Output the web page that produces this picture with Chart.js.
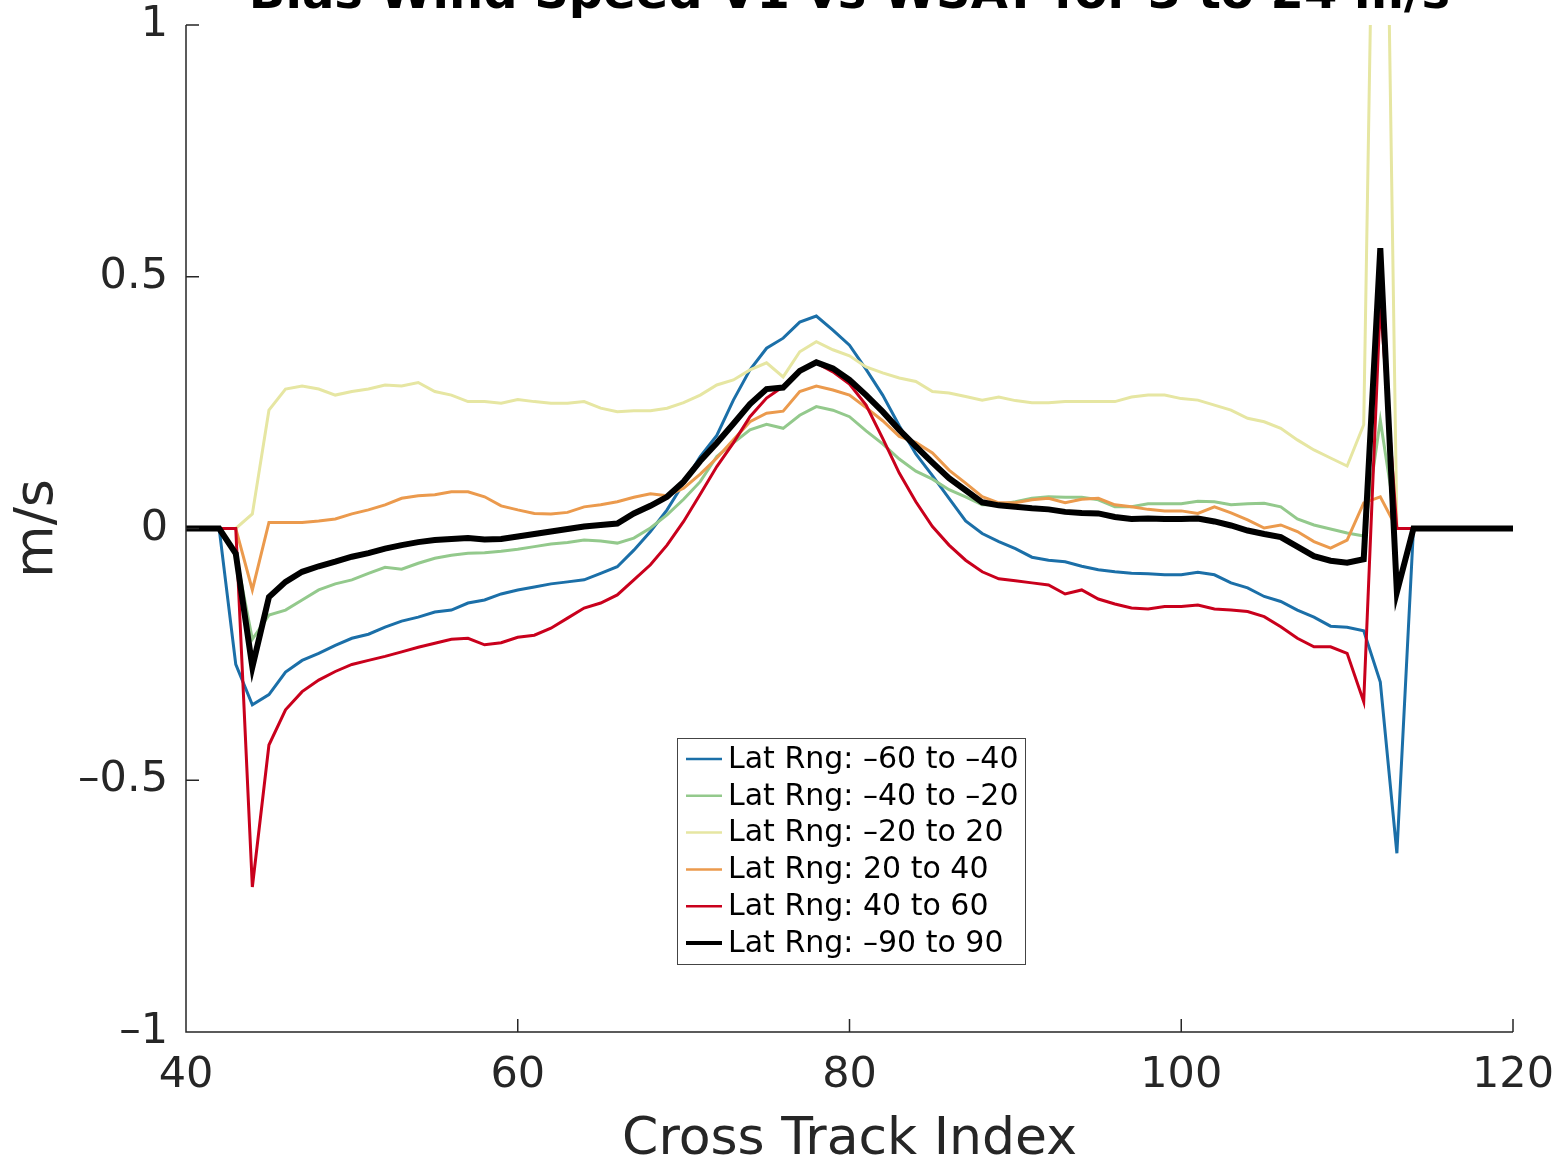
<!DOCTYPE html>
<html>
<head>
<meta charset="utf-8">
<script src="https://cdn.jsdelivr.net/npm/chart.js"></script>
<style>
  body { margin: 0; background: #fff; }
</style>
</head>
<body>
<canvas id="myChart" width="1563" height="1167"></canvas>
<script>
// cross track index (x) and bias (m/s) per latitude band
const xIdx = [40,41,42,43,44,45,46,47,48,49,50,51,52,53,54,55,56,57,58,59,
              60,61,62,63,64,65,66,67,68,69,70,71,72,73,74,75,76,77,78,79,
              80,81,82,83,84,85,86,87,88,89,90,91,92,93,94,95,96,97,98,99,
              100,101,102,103,104,105,106,107,108,109,110,111,112,113,114,115,116,117,118,119,120];

const lat60s40s = [0,0,0,-0.27,-0.35,-0.33,-0.285,-0.262,-0.248,-0.232,-0.218,-0.21,-0.196,-0.184,-0.176,-0.166,-0.162,-0.148,-0.142,-0.13,
  -0.122,-0.116,-0.11,-0.106,-0.102,-0.089,-0.076,-0.043,-0.006,0.037,0.09,0.143,0.185,0.255,0.315,0.358,0.378,0.41,0.422,0.394,
  0.364,0.316,0.265,0.204,0.148,0.105,0.06,0.015,-0.01,-0.026,-0.04,-0.057,-0.063,-0.066,-0.075,-0.082,-0.086,-0.089,-0.09,-0.092,
  -0.092,-0.087,-0.092,-0.108,-0.118,-0.135,-0.145,-0.162,-0.176,-0.194,-0.196,-0.203,-0.305,-0.645,0,0,0,0,0,0,0];

const lat40s20s = [0,0,0,-0.05,-0.22,-0.172,-0.162,-0.142,-0.122,-0.11,-0.102,-0.089,-0.077,-0.081,-0.069,-0.059,-0.053,-0.049,-0.048,-0.045,
  -0.041,-0.036,-0.031,-0.028,-0.023,-0.025,-0.029,-0.019,0.001,0.027,0.058,0.093,0.143,0.17,0.196,0.207,0.199,0.225,0.242,0.235,
  0.222,0.194,0.168,0.138,0.114,0.098,0.077,0.063,0.047,0.047,0.053,0.06,0.063,0.062,0.062,0.057,0.043,0.043,0.049,0.049,
  0.049,0.054,0.053,0.047,0.049,0.05,0.043,0.019,0.007,-0.001,-0.009,-0.015,0.215,0,0,0,0,0,0,0,0];

const lat20s20n = [0,0,0,0,0.029,0.235,0.277,0.283,0.277,0.265,0.272,0.277,0.285,0.283,0.29,0.272,0.265,0.252,0.252,0.249,
  0.256,0.252,0.249,0.249,0.252,0.239,0.232,0.234,0.234,0.239,0.25,0.265,0.285,0.295,0.315,0.329,0.301,0.351,0.371,0.355,
  0.343,0.321,0.309,0.299,0.292,0.272,0.269,0.262,0.255,0.261,0.254,0.25,0.25,0.252,0.252,0.252,0.252,0.261,0.265,0.265,
  0.258,0.255,0.245,0.235,0.219,0.212,0.199,0.176,0.156,0.14,0.124,0.206,2.2,0,0,0,0,0,0,0,0];

const lat20n40n = [0,0,0,0,-0.122,0.012,0.012,0.012,0.015,0.019,0.029,0.037,0.047,0.06,0.065,0.067,0.073,0.073,0.063,0.045,
  0.037,0.03,0.029,0.032,0.043,0.047,0.053,0.062,0.069,0.065,0.08,0.108,0.14,0.176,0.212,0.229,0.233,0.272,0.283,0.275,
  0.265,0.24,0.214,0.183,0.171,0.15,0.116,0.09,0.063,0.051,0.051,0.057,0.06,0.051,0.058,0.06,0.047,0.043,0.038,0.035,
  0.035,0.03,0.043,0.031,0.017,0.001,0.007,-0.006,-0.026,-0.039,-0.023,0.051,0.063,0,0,0,0,0,0,0,0];

const lat40n60n = [0,0,0,0,-0.712,-0.43,-0.36,-0.324,-0.301,-0.284,-0.27,-0.262,-0.254,-0.245,-0.236,-0.228,-0.22,-0.218,-0.231,-0.227,
  -0.216,-0.212,-0.198,-0.178,-0.158,-0.148,-0.132,-0.102,-0.072,-0.033,0.014,0.068,0.123,0.17,0.222,0.259,0.282,0.315,0.329,0.311,
  0.287,0.245,0.179,0.11,0.053,0.004,-0.033,-0.063,-0.086,-0.1,-0.104,-0.108,-0.112,-0.13,-0.122,-0.14,-0.15,-0.158,-0.16,-0.155,
  -0.155,-0.152,-0.16,-0.162,-0.165,-0.175,-0.195,-0.218,-0.235,-0.235,-0.248,-0.344,0.45,0,0,0,0,0,0,0,0];

const latAll = [0,0,0,-0.05,-0.275,-0.136,-0.106,-0.086,-0.075,-0.066,-0.056,-0.049,-0.04,-0.033,-0.027,-0.023,-0.021,-0.019,-0.022,-0.021,
  -0.016,-0.011,-0.006,-0.001,0.004,0.007,0.01,0.03,0.045,0.063,0.093,0.134,0.17,0.208,0.247,0.277,0.28,0.313,0.33,0.318,
  0.295,0.265,0.232,0.196,0.163,0.131,0.1,0.076,0.052,0.046,0.043,0.04,0.038,0.033,0.031,0.03,0.023,0.019,0.02,0.019,
  0.019,0.02,0.014,0.006,-0.004,-0.011,-0.017,-0.036,-0.055,-0.064,-0.068,-0.061,0.557,-0.126,0,0,0,0,0,0,0];

const seriesNames = ['Lat Rng: \u201360 to \u201340', 'Lat Rng: \u201340 to \u201320', 'Lat Rng: \u201320 to 20',
                     'Lat Rng: 20 to 40', 'Lat Rng: 40 to 60', 'Lat Rng: \u201390 to 90'];
const seriesValues = [lat60s40s, lat40s20s, lat20s20n, lat20n40n, lat40n60n, latAll];
const seriesColors = ['#1b6fa8', '#93c98c', '#e6e6a2', '#eb9a4d', '#c9001c', '#000000'];
const seriesWidths = [3, 3, 3, 3, 3, 6];

const xTicks = [40, 60, 80, 100, 120];
const yTicks = [-1, -0.5, 0, 0.5, 1];

const FONT = '"DejaVu Sans", sans-serif';
const AXIS = '#262626';

function fmt(v) {
  const s = String(Math.abs(v));
  return v < 0 ? '\u2013' + s : s;
}

// later series on top, black last (chart.js draws low "order" on top)
const datasets = seriesNames.map((name, i) => ({
  label: name,
  data: xIdx.map((x, j) => ({ x: x, y: seriesValues[i][j] })),
  borderColor: seriesColors[i],
  backgroundColor: seriesColors[i],
  borderWidth: seriesWidths[i],
  pointRadius: 0,
  tension: 0,
  fill: false,
  clip: 0,
  order: seriesNames.length - i
}));

// title sits partly above the canvas top, as in the picture
const cutTitle = {
  id: 'cutTitle',
  afterDraw(chart) {
    const ctx = chart.ctx;
    const a = chart.chartArea;
    ctx.save();
    ctx.font = 'bold 48px ' + FONT;
    ctx.fillStyle = '#000';
    ctx.textAlign = 'center';
    ctx.textBaseline = 'alphabetic';
    ctx.fillText('Bias Wind Speed V1 vs WSAT for 3 to 24 m/s', (a.left + a.right) / 2, 8);
    ctx.restore();
  }
};

// inward tick marks and the two axis lines (matlab style, box off)
const innerTicks = {
  id: 'innerTicks',
  afterDatasetsDraw(chart) {
    const ctx = chart.ctx;
    const a = chart.chartArea;
    const xs = chart.scales.x, ys = chart.scales.y;
    const len = 13;
    ctx.save();
    ctx.strokeStyle = AXIS;
    ctx.lineWidth = 1.5;
    ctx.beginPath();
    xTicks.forEach(t => {
      const px = xs.getPixelForValue(t);
      ctx.moveTo(px, a.bottom);
      ctx.lineTo(px, a.bottom - len);
    });
    yTicks.forEach(t => {
      const py = ys.getPixelForValue(t);
      ctx.moveTo(a.left, py);
      ctx.lineTo(a.left + len, py);
    });
    ctx.moveTo(a.left, a.top);
    ctx.lineTo(a.left, a.bottom);
    ctx.lineTo(a.right, a.bottom);
    ctx.stroke();
    ctx.restore();
  }
};

// boxed legend inside the plot
const boxLegend = {
  id: 'boxLegend',
  afterDraw(chart) {
    const ctx = chart.ctx;
    const a = chart.chartArea;
    const left = a.left + 491, top = a.top + 713;
    const w = 348, h = 226, rowH = 36.8;
    ctx.save();
    ctx.fillStyle = '#fff';
    ctx.fillRect(left, top, w, h);
    ctx.strokeStyle = '#444';
    ctx.lineWidth = 1;
    ctx.strokeRect(left + 0.5, top + 0.5, w, h);
    ctx.font = '30px ' + FONT;
    ctx.textBaseline = 'middle';
    ctx.textAlign = 'left';
    chart.data.datasets.forEach((ds, i) => {
      const cy = top + 21 + i * rowH;
      ctx.strokeStyle = ds.borderColor;
      ctx.lineWidth = ds.borderWidth === 6 ? 4 : 2.5;
      ctx.beginPath();
      ctx.moveTo(left + 9, cy);
      ctx.lineTo(left + 45, cy);
      ctx.stroke();
      ctx.fillStyle = '#000';
      ctx.fillText(ds.label, left + 51, cy + 1);
    });
    ctx.restore();
  }
};

const ctx = document.getElementById('myChart');
new Chart(ctx, {
  type: 'line',
  data: { datasets: datasets },
  plugins: [cutTitle, innerTicks, boxLegend],
  options: {
    responsive: false,
    animation: false,
    layout: { padding: { top: 25, right: 50, left: 0, bottom: 0 } },
    plugins: {
      legend: { display: false },
      tooltip: { enabled: false },
      title: { display: false }
    },
    scales: {
      x: {
        type: 'linear',
        min: 40,
        max: 120,
        afterBuildTicks: s => { s.ticks = xTicks.map(v => ({ value: v })); },
        afterFit: s => { s.height = 135; s.paddingLeft = 0; s.paddingRight = 0; },
        grid: { display: false, drawTicks: false },
        border: { display: false },
        ticks: {
          padding: 18,
          color: AXIS,
          font: { family: FONT, size: 43 },
          maxRotation: 0,
          callback: v => fmt(v)
        },
        title: {
          display: true,
          text: 'Cross Track Index',
          color: AXIS,
          font: { family: FONT, size: 52, lineHeight: 1 },
          padding: { top: 0, bottom: 1 }
        }
      },
      y: {
        min: -1,
        max: 1,
        afterBuildTicks: s => { s.ticks = yTicks.map(v => ({ value: v })); },
        afterFit: s => { s.width = 186; s.paddingTop = 0; s.paddingBottom = 0; },
        grid: { display: false, drawTicks: false },
        border: { display: false },
        ticks: {
          padding: 18,
          color: AXIS,
          font: { family: FONT, size: 43 },
          callback: v => fmt(v)
        },
        title: {
          display: true,
          text: 'm/s',
          color: AXIS,
          font: { family: FONT, size: 54, lineHeight: 1 },
          padding: { top: 11, bottom: 0 }
        }
      }
    }
  }
});
</script>
</body>
</html>
